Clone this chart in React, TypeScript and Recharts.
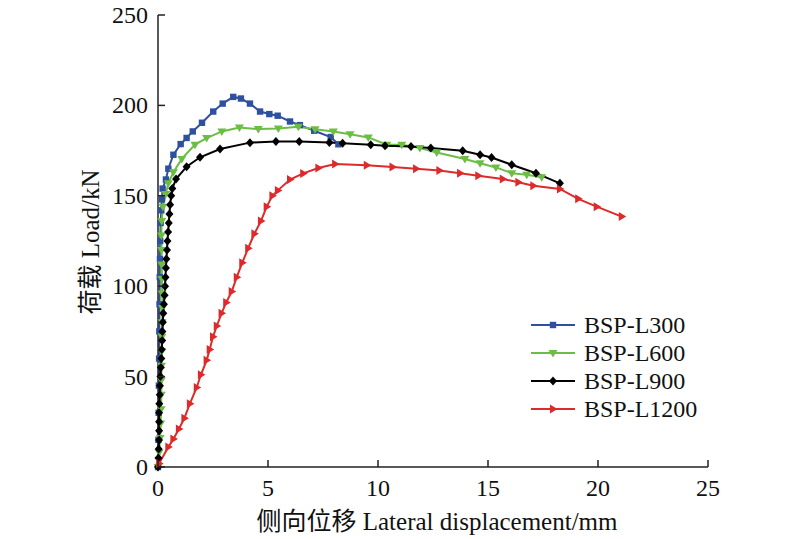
import React from "react";
import { LineChart, Line, XAxis, YAxis, Legend, Label } from "recharts";

// 荷载-侧向位移曲线
const L300 = [
  { x: 0, y: 0 }, { x: 0.02, y: 15 }, { x: 0.03, y: 30 }, { x: 0.04, y: 45 },
  { x: 0.05, y: 60 }, { x: 0.06, y: 75 }, { x: 0.07, y: 90 }, { x: 0.08, y: 105 },
  { x: 0.09, y: 115 }, { x: 0.1, y: 125 }, { x: 0.12, y: 135 }, { x: 0.15, y: 142 },
  { x: 0.18, y: 148 }, { x: 0.21, y: 154 }, { x: 0.36, y: 159 }, { x: 0.47, y: 165 },
  { x: 0.7, y: 172.7 }, { x: 1.03, y: 178.6 }, { x: 1.3, y: 182 }, { x: 1.58, y: 185.6 },
  { x: 2.0, y: 190.4 }, { x: 2.51, y: 196.6 }, { x: 2.94, y: 201 }, { x: 3.42, y: 204.7 },
  { x: 3.77, y: 203.8 }, { x: 4.18, y: 201 }, { x: 4.64, y: 196.6 }, { x: 5.06, y: 195.2 },
  { x: 5.44, y: 194.3 }, { x: 6.0, y: 191.1 }, { x: 6.45, y: 189.1 }, { x: 7.1, y: 186 },
  { x: 7.85, y: 182.5 }, { x: 8.2, y: 178.5 },
];

const L600 = [
  { x: 0, y: 0 }, { x: 0.05, y: 8 }, { x: 0.1, y: 16 }, { x: 0.12, y: 24 },
  { x: 0.14, y: 32 }, { x: 0.15, y: 40 }, { x: 0.15, y: 48 }, { x: 0.16, y: 56 },
  { x: 0.17, y: 64 }, { x: 0.18, y: 72 }, { x: 0.19, y: 80 }, { x: 0.2, y: 88 },
  { x: 0.19, y: 96 }, { x: 0.18, y: 104 }, { x: 0.17, y: 112 }, { x: 0.16, y: 120 },
  { x: 0.15, y: 128 }, { x: 0.17, y: 136 }, { x: 0.22, y: 144 }, { x: 0.35, y: 151 },
  { x: 0.47, y: 157 }, { x: 0.7, y: 163 }, { x: 1.08, y: 170.4 }, { x: 1.68, y: 178.3 },
  { x: 2.21, y: 181.9 }, { x: 2.9, y: 185.6 }, { x: 3.7, y: 187.8 }, { x: 4.56, y: 186.9 },
  { x: 5.47, y: 187.2 }, { x: 6.38, y: 188.2 }, { x: 7.14, y: 186.8 }, { x: 7.97, y: 185.6 },
  { x: 8.73, y: 184 }, { x: 9.56, y: 182.3 }, { x: 10.4, y: 178.3 }, { x: 11.08, y: 178.3 },
  { x: 11.9, y: 176.4 }, { x: 12.67, y: 174 }, { x: 13.95, y: 170.4 }, { x: 14.64, y: 168 },
  { x: 15.36, y: 165.7 }, { x: 16.08, y: 162.5 }, { x: 16.76, y: 161.7 }, { x: 17.44, y: 160.2 },
];

const L900 = [
  { x: 0, y: 0 }, { x: 0.02, y: 5 }, { x: 0.03, y: 10 }, { x: 0.05, y: 15 },
  { x: 0.05, y: 20 }, { x: 0.05, y: 25 }, { x: 0.05, y: 30 }, { x: 0.06, y: 35 },
  { x: 0.08, y: 40 }, { x: 0.09, y: 45 }, { x: 0.11, y: 50 }, { x: 0.13, y: 55 },
  { x: 0.15, y: 60 }, { x: 0.17, y: 65 }, { x: 0.19, y: 70 }, { x: 0.2, y: 75 },
  { x: 0.22, y: 80 }, { x: 0.24, y: 85 }, { x: 0.27, y: 90 }, { x: 0.3, y: 95 },
  { x: 0.32, y: 100 }, { x: 0.34, y: 105 }, { x: 0.36, y: 110 }, { x: 0.38, y: 115 },
  { x: 0.41, y: 120 }, { x: 0.43, y: 125 }, { x: 0.46, y: 130 }, { x: 0.49, y: 135 },
  { x: 0.52, y: 140 }, { x: 0.55, y: 145 }, { x: 0.6, y: 150 }, { x: 0.65, y: 154 },
  { x: 0.82, y: 159.3 }, { x: 1.3, y: 166.1 }, { x: 1.91, y: 171.3 }, { x: 2.82, y: 175.9 },
  { x: 4.18, y: 179.4 }, { x: 5.36, y: 180.1 }, { x: 6.42, y: 180.1 }, { x: 7.79, y: 179.5 },
  { x: 8.39, y: 179 }, { x: 9.67, y: 178.3 }, { x: 10.32, y: 177.7 }, { x: 11.5, y: 177.2 },
  { x: 12.4, y: 176.4 }, { x: 13.85, y: 174.9 }, { x: 14.64, y: 172.7 }, { x: 15.16, y: 171.2 },
  { x: 16.08, y: 167.2 }, { x: 17.18, y: 162.5 }, { x: 18.27, y: 156.9 },
];

const L1200 = [
  { x: 0.05, y: 2 }, { x: 0.47, y: 11 }, { x: 0.7, y: 15.5 }, { x: 0.95, y: 21 },
  { x: 1.2, y: 27 }, { x: 1.45, y: 35 }, { x: 1.76, y: 44 }, { x: 1.95, y: 51 },
  { x: 2.21, y: 59 }, { x: 2.35, y: 65 }, { x: 2.5, y: 72 }, { x: 2.67, y: 78 },
  { x: 2.89, y: 85 }, { x: 3.1, y: 91 }, { x: 3.35, y: 97 }, { x: 3.58, y: 105 },
  { x: 3.83, y: 113 }, { x: 4.1, y: 121 }, { x: 4.38, y: 129 }, { x: 4.68, y: 136 },
  { x: 4.94, y: 144 }, { x: 5.2, y: 150 }, { x: 5.45, y: 153 }, { x: 6.0, y: 159 },
  { x: 6.6, y: 162.4 }, { x: 7.29, y: 165.4 }, { x: 8.05, y: 167.6 }, { x: 9.49, y: 166.9 },
  { x: 10.66, y: 165.9 }, { x: 11.73, y: 164.9 }, { x: 12.79, y: 164 }, { x: 13.73, y: 162.5 },
  { x: 14.56, y: 161.1 }, { x: 15.67, y: 159.3 }, { x: 16.38, y: 157.5 }, { x: 17.06, y: 155.6 },
  { x: 18.27, y: 153.8 }, { x: 19.1, y: 148.3 }, { x: 19.94, y: 144 }, { x: 21.08, y: 138.5 },
];

const X_TICKS = [0, 5, 10, 15, 20, 25];
const Y_TICKS = [0, 50, 100, 150, 200, 250];

const BLUE = "#2f4f9f";
const GREEN = "#6cbd45";
const BLACK = "#000000";
const RED = "#dd2a2a";

const FONT = '"Liberation Serif", "Noto Sans CJK SC", serif';
const AXIS = "#222";

const square = (c: string) => (p: any) => (
  <rect key={`s${p.index}`} x={p.cx - 3.2} y={p.cy - 3.2} width={6.4} height={6.4} fill={c} />
);
const downTri = (c: string) => (p: any) => (
  <polygon key={`d${p.index}`} points={`${p.cx - 4.5},${p.cy - 3} ${p.cx + 4.5},${p.cy - 3} ${p.cx},${p.cy + 4.5}`} fill={c} />
);
const diamond = (c: string) => (p: any) => (
  <polygon key={`m${p.index}`} points={`${p.cx},${p.cy - 4.5} ${p.cx + 4},${p.cy} ${p.cx},${p.cy + 4.5} ${p.cx - 4},${p.cy}`} fill={c} />
);
const rightTri = (c: string) => (p: any) => (
  <polygon key={`r${p.index}`} points={`${p.cx - 3},${p.cy - 4.5} ${p.cx + 4.5},${p.cy} ${p.cx - 3},${p.cy + 4.5}`} fill={c} />
);

const SERIES = [
  { name: "BSP-L300", data: L300, color: BLUE, dot: square },
  { name: "BSP-L600", data: L600, color: GREEN, dot: downTri },
  { name: "BSP-L900", data: L900, color: BLACK, dot: diamond },
  { name: "BSP-L1200", data: L1200, color: RED, dot: rightTri },
];

const XTick = (p: any) => (
  <g>
    <line x1={p.x} y1={p.y} x2={p.x} y2={p.y - 7} stroke={AXIS} strokeWidth={1.5} />
    <text x={p.x} y={p.y + 29} textAnchor="middle" fontSize={24} fontFamily={FONT} fill="#111">
      {p.payload.value}
    </text>
  </g>
);

const YTick = (p: any) => (
  <g>
    <line x1={p.x} y1={p.y} x2={p.x + 7} y2={p.y} stroke={AXIS} strokeWidth={1.5} />
    <text x={p.x - 10} y={p.y + 8} textAnchor="end" fontSize={24} fontFamily={FONT} fill="#111">
      {p.payload.value}
    </text>
  </g>
);

const renderLegend = () => (
  <div style={{ fontFamily: FONT, fontSize: 24, color: "#111" }}>
    {SERIES.map((s) => (
      <div key={s.name} style={{ display: "flex", alignItems: "center", height: 28 }}>
        <svg width={46} height={14} style={{ marginRight: 8 }}>
          <line x1={1} y1={7} x2={45} y2={7} stroke={s.color} strokeWidth={2.2} />
          {s.dot(s.color)({ cx: 23, cy: 7, index: 0 })}
        </svg>
        <span style={{ lineHeight: "28px" }}>{s.name}</span>
      </div>
    ))}
  </div>
);

export default function App() {
  return (
    <div style={{ position: "absolute", left: 0, top: 0, width: 800, height: 539, background: "#fff" }}>
      <LineChart width={800} height={539} margin={{ top: 15, right: 92, left: 0, bottom: 0 }}>
        <XAxis
          type="number"
          dataKey="x"
          domain={[0, 25]}
          ticks={X_TICKS}
          height={72}
          tickSize={0}
          tickMargin={0}
          tickLine={false}
          tick={<XTick />}
          axisLine={{ stroke: AXIS, strokeWidth: 1.5 }}
        >
          <Label
            content={() => (
              <text x={437} y={530} textAnchor="middle" fontSize={25} fontFamily={FONT} fill="#111">
                侧向位移 Lateral displacement/mm
              </text>
            )}
          />
        </XAxis>
        <YAxis
          type="number"
          dataKey="y"
          domain={[0, 250]}
          ticks={Y_TICKS}
          width={158}
          tickSize={0}
          tickMargin={0}
          tickLine={false}
          tick={<YTick />}
          axisLine={{ stroke: AXIS, strokeWidth: 1.5 }}
        >
          <Label
            content={() => (
              <text
                x={99}
                y={242}
                transform="rotate(-90 99 242)"
                textAnchor="middle"
                fontSize={25}
                fontFamily={FONT}
                fill="#111"
              >
                荷载 Load/kN
              </text>
            )}
          />
        </YAxis>
        <Legend
          layout="vertical"
          align="center"
          verticalAlign="middle"
          content={renderLegend}
          wrapperStyle={{ position: "absolute", left: 530, top: 311, width: "auto" }}
        />
        {SERIES.map((s) => (
          <Line
            key={s.name}
            name={s.name}
            data={s.data}
            dataKey="y"
            type="linear"
            stroke={s.color}
            strokeWidth={2}
            dot={s.dot(s.color)}
            activeDot={false}
            isAnimationActive={false}
          />
        ))}
      </LineChart>
    </div>
  );
}
